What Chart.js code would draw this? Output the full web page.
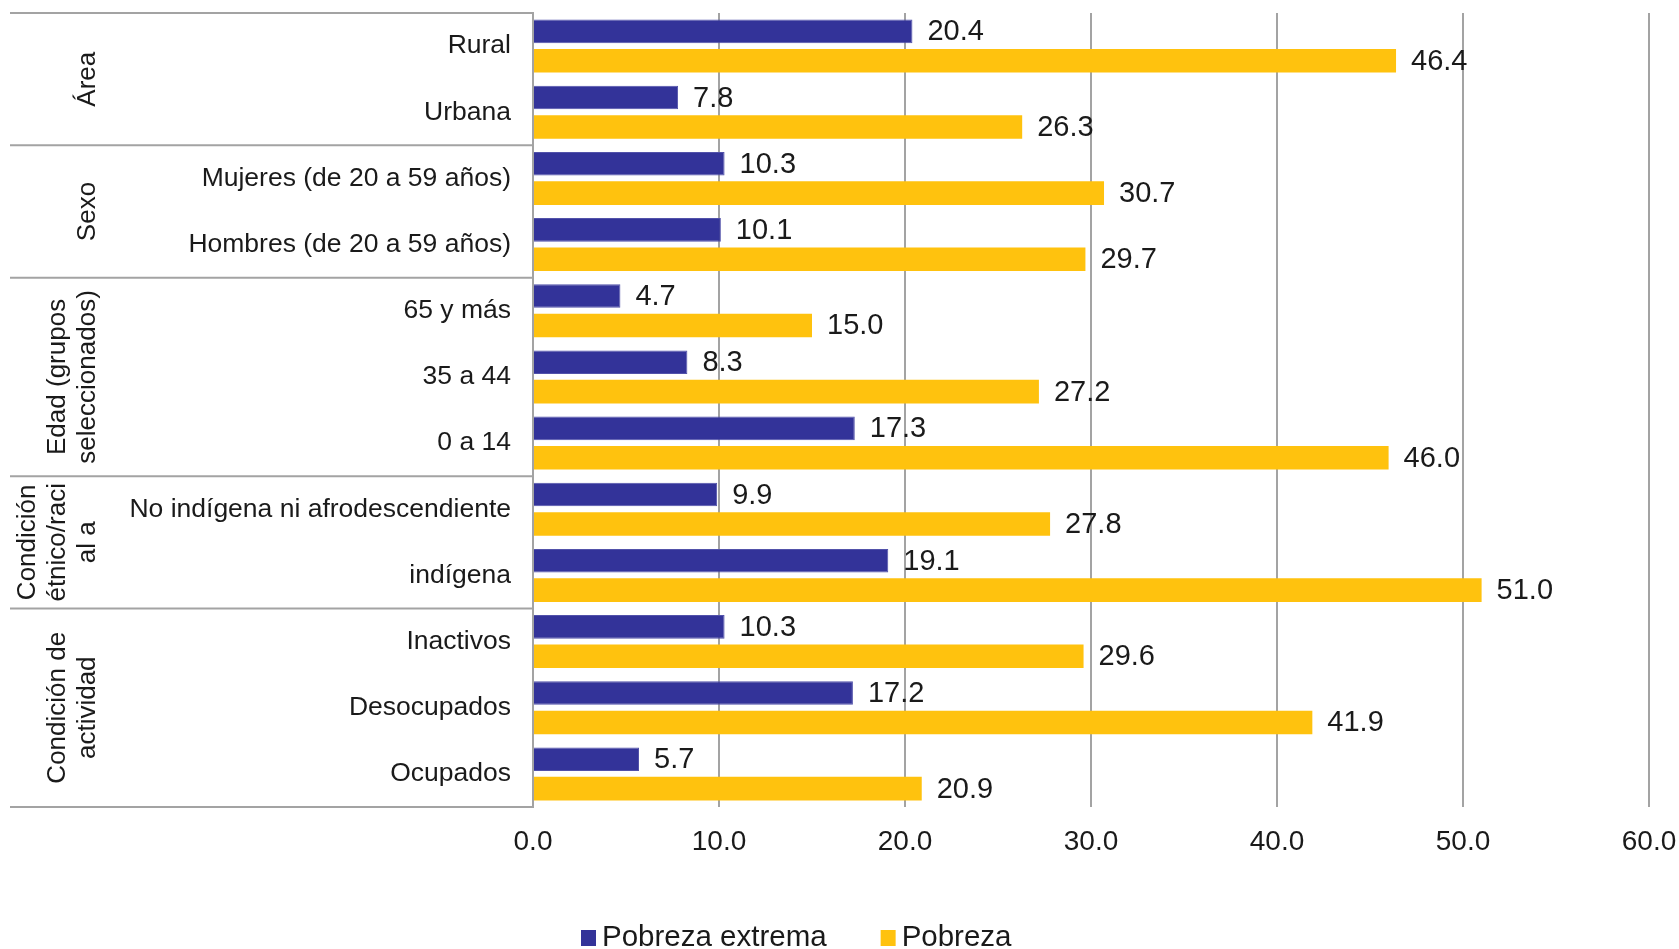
<!DOCTYPE html>
<html>
<head>
<meta charset="utf-8">
<script src="https://cdn.jsdelivr.net/npm/chart.js"></script>
<style>
  body { margin: 0; background: #fff; }
  canvas { display: block; }
</style>
</head>
<body>
<canvas id="povertyChart" width="1679" height="949"></canvas>
<script>
const categories = [
  "Rural", "Urbana",
  "Mujeres (de 20 a 59 años)", "Hombres (de 20 a 59 años)",
  "65 y más", "35 a 44", "0 a 14",
  "No indígena ni afrodescendiente", "indígena",
  "Inactivos", "Desocupados", "Ocupados"
];
const extremeValues = [20.4, 7.8, 10.3, 10.1, 4.7, 8.3, 17.3, 9.9, 19.1, 10.3, 17.2, 5.7];
const povertyValues = [46.4, 26.3, 30.7, 29.7, 15.0, 27.2, 46.0, 27.8, 51.0, 29.6, 41.9, 20.9];
const seriesNames = ["Pobreza extrema", "Pobreza"];
const seriesColors = ["#333399", "#ffc20e"];

// row groups of the left table
const groupLabels = [
  ["Área"],
  ["Sexo"],
  ["Edad (grupos", "seleccionados)"],
  ["Condición", "étnico/raci", "al a"],
  ["Condición de", "actividad"]
];
const groupSizes = [2, 2, 3, 2, 3];

const lineGray = "#a3a3a3";
const fontFamily = "'Liberation Sans', Arial, sans-serif";
Chart.defaults.font.family = fontFamily;
Chart.defaults.color = "#1a1a1a";

const tablePlugin = {
  id: "tablePlugin",
  afterDraw(chart) {
    const ctx = chart.ctx;
    const area = chart.chartArea;
    const y = chart.scales.y;

    // horizontal separators between groups
    const edges = [area.top];
    let idx = 0;
    groupSizes.forEach(function (n) {
      idx += n;
      if (idx >= categories.length) {
        edges.push(area.bottom);
      } else {
        edges.push((y.getPixelForValue(idx - 1) + y.getPixelForValue(idx)) / 2);
      }
    });

    ctx.save();
    ctx.strokeStyle = lineGray;
    ctx.lineWidth = 2;
    edges.forEach(function (e) {
      ctx.beginPath();
      ctx.moveTo(10, e);
      ctx.lineTo(area.left, e);
      ctx.stroke();
    });

    // rotated group names
    ctx.fillStyle = "#1a1a1a";
    ctx.font = "26px " + fontFamily;
    ctx.textAlign = "center";
    ctx.textBaseline = "middle";
    groupLabels.forEach(function (lines, g) {
      const mid = (edges[g] + edges[g + 1]) / 2;
      lines.forEach(function (line, i) {
        const x = 88 - (lines.length - 1 - i) * 30;
        ctx.save();
        ctx.translate(x, mid);
        ctx.rotate(-Math.PI / 2);
        ctx.fillText(line, 0, 0);
        ctx.restore();
      });
    });

    // legend
    ctx.font = "29.5px " + fontFamily;
    ctx.textAlign = "left";
    let lx = 581;
    const ly = 938;
    seriesNames.forEach(function (name, i) {
      ctx.fillStyle = seriesColors[i];
      ctx.fillRect(lx, ly - 8, 15, 16);
      ctx.fillStyle = "#1a1a1a";
      ctx.fillText(name, lx + 21, ly);
      lx += 21 + ctx.measureText(name).width + 54;
    });
    ctx.restore();
  }
};

const valueLabels = {
  id: "valueLabels",
  afterDatasetsDraw(chart) {
    const ctx = chart.ctx;
    ctx.save();
    ctx.font = "29px " + fontFamily;
    ctx.fillStyle = "#1a1a1a";
    ctx.textAlign = "left";
    ctx.textBaseline = "middle";
    chart.data.datasets.forEach(function (ds, i) {
      chart.getDatasetMeta(i).data.forEach(function (bar, j) {
        ctx.fillText(ds.data[j].toFixed(1), bar.x + 15, bar.y + 1);
      });
    });
    ctx.restore();
  }
};

new Chart("povertyChart", {
  type: "bar",
  data: {
    labels: categories,
    datasets: [
      {
        label: seriesNames[0],
        data: extremeValues,
        backgroundColor: seriesColors[0],
        borderColor: "#5252aa",
        borderWidth: 1,
      },
      {
        label: seriesNames[1],
        data: povertyValues,
        backgroundColor: seriesColors[1],
      },
    ],
  },
  options: {
    indexAxis: "y",
    responsive: false,
    animation: false,
    categoryPercentage: 0.89,
    barPercentage: 0.8,
    layout: {
      padding: { top: 13, right: 30, bottom: 0, left: 0 },
    },
    plugins: {
      legend: { display: false },
      tooltip: { enabled: false },
    },
    scales: {
      x: {
        min: 0,
        max: 60,
        ticks: {
          stepSize: 10,
          padding: 18,
          color: "#1a1a1a",
          font: { size: 28 },
          callback: function (v) {
            return v.toFixed(1);
          },
        },
        grid: { color: lineGray, lineWidth: 2, drawTicks: false },
        border: { display: false },
        afterFit: function (scale) {
          scale.height = 142;
          scale.paddingLeft = 0;
          scale.paddingRight = 0;
        },
      },
      y: {
        ticks: {
          padding: 22,
          color: "#1a1a1a",
          font: { size: 26.5 },
        },
        grid: { display: false, drawTicks: false },
        border: { display: true, color: lineGray, width: 2 },
        afterFit: function (scale) {
          scale.width = 533;
          scale.paddingTop = 0;
          scale.paddingBottom = 0;
        },
      },
    },
  },
  plugins: [tablePlugin, valueLabels],
});
</script>
</body>
</html>
